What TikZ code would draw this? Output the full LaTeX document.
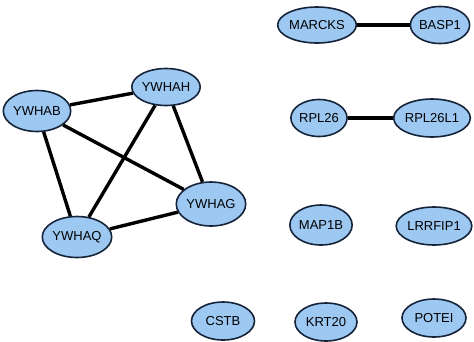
\documentclass[tikz,border=0pt]{standalone}
\usepackage{fontspec}
\setmainfont{Liberation Sans}
\usetikzlibrary{shapes.geometric}
\definecolor{nodefill}{HTML}{9CC8F2}
\definecolor{nodeline}{HTML}{16243A}
\tikzset{
  gene/.style={ellipse, draw=nodeline, line width=1.6pt, fill=nodefill, inner sep=0pt,
    minimum width=#1, minimum height=38pt, font=\fontsize{13}{13}\selectfont},
  gene/.default=60pt,
  link/.style={line width=3.4pt, black}
}
\begin{document}
\begin{tikzpicture}[x=1pt,y=-1pt]
\useasboundingbox (0,0) rectangle (474,341);
\node[gene=62pt, minimum height=37pt] (YWHAH) at (166,87) {YWHAH};
\node[gene=63pt, minimum height=41pt] (YWHAB) at (37,111) {YWHAB};
\node[gene=60pt, minimum height=44pt] (YWHAG) at (211,204) {YWHAG};
\node[gene=68pt, minimum height=41pt] (YWHAQ) at (77,237) {YWHAQ};
\node[gene=61pt, minimum height=36pt] (MARCKS) at (317,25) {MARCKS};
\node[gene=56pt, minimum height=37pt] (BASP1) at (440,25) {BASP1};
\node[gene=56pt, minimum height=37pt] (RPL26) at (319,118) {RPL26};
\node[gene=60pt, minimum height=38pt] (RPL26L1) at (432,118) {RPL26L1};
\node[gene=53pt, minimum height=40pt] (MAP1B) at (321,225) {MAP1B};
\node[gene=65pt, minimum height=38pt] (LRRFIP1) at (434,226) {LRRFIP1};
\node[gene=63pt, minimum height=38pt] (CSTB) at (223,321) {CSTB};
\node[gene=62pt, minimum height=38pt] (KRT20) at (326,322) {KRT20};
\node[gene=64pt, minimum height=38pt] (POTEI) at (434,318) {POTEI};
\draw[link] (YWHAB) -- (YWHAH);
\draw[link] (YWHAB) -- (YWHAG);
\draw[link] (YWHAB) -- (YWHAQ);
\draw[link] (YWHAH) -- (YWHAQ);
\draw[link] (YWHAH) -- (YWHAG);
\draw[link] (YWHAQ) -- (YWHAG);
\draw[link] (MARCKS) -- (BASP1);
\draw[link] (RPL26) -- (RPL26L1);
\end{tikzpicture}
\end{document}
